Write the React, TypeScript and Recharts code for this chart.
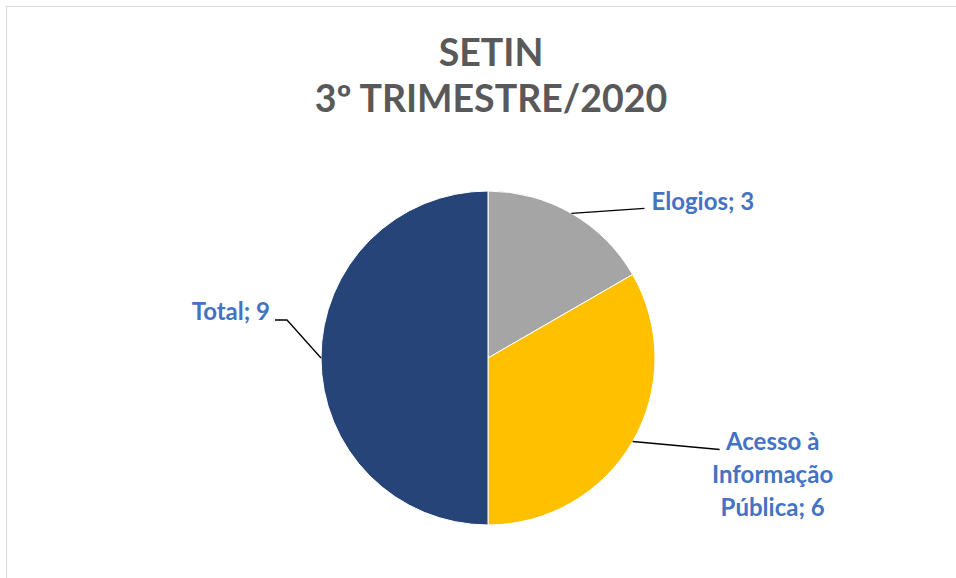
import { PieChart, Pie, Cell } from 'recharts';

const categories = ['Elogios', 'Acesso à Informação Pública', 'Total'];
const values = [3, 6, 9];
const colors = ['#A5A5A5', '#FFC000', '#264478'];

// label text, wrapped the way the reference wraps it
const labelLines = [['Elogios; 3'], ['Acesso à', 'Informação', 'Pública; 6'], ['Total; 9']];

const data = categories.map((name, i) => ({ name, value: values[i] }));

// leader-line elbow / end and text baseline, relative to the point on the rim
const labelLayout = [
  { bend: [73, -5], end: [73, -5], text: [80, -3], anchor: 'start' },
  { bend: [87, 8], end: [87, 8], text: [140, 8], anchor: 'middle' },
  { bend: [-34, -38], end: [-46, -38], text: [-51, -38], anchor: 'end' },
];

const RADIAN = Math.PI / 180;
const labelFont = 'Lato, "Open Sans", sans-serif';

function renderLabel(props: any) {
  const { cx, cy, midAngle, outerRadius, index } = props;
  const sx = cx + outerRadius * Math.cos(-midAngle * RADIAN);
  const sy = cy + outerRadius * Math.sin(-midAngle * RADIAN);
  const l = labelLayout[index];
  const lines = labelLines[index];
  const lh = 33;
  return (
    <g key={`lbl-${index}`}>
      <polyline
        points={`${sx},${sy} ${sx + l.bend[0]},${sy + l.bend[1]} ${sx + l.end[0]},${sy + l.end[1]}`}
        fill="none"
        stroke="#000"
        strokeWidth={1.3}
      />
      <text
        x={sx + l.text[0]}
        y={sy + l.text[1]}
        textAnchor={l.anchor as any}
        fill="#4472C4"
        fontFamily={labelFont}
        fontWeight={700}
        fontSize={24}
      >
        {lines.map((t, i) => (
          <tspan key={i} x={sx + l.text[0]} dy={i === 0 ? 0 : lh}>
            {t}
          </tspan>
        ))}
      </text>
    </g>
  );
}

export default function App() {
  return (
    <div style={{ position: 'fixed', left: 0, top: 0, width: 956, height: 578, background: '#fff', overflow: 'hidden' }}>
      <div
        style={{
          position: 'absolute',
          left: 6,
          top: 6,
          width: 960,
          height: 580,
          border: '1.5px solid #d9d9d9',
          boxSizing: 'border-box',
        }}
      />
      <div
        style={{
          position: 'absolute',
          left: 0,
          top: 29,
          width: 982,
          textAlign: 'center',
          fontFamily: 'Lato, "Open Sans", sans-serif',
          fontWeight: 700,
          fontSize: 37.5,
          lineHeight: '46px',
          color: '#595959',
        }}
      >
        <div>SETIN</div>
        <div>3º TRIMESTRE/2020</div>
      </div>
      <div style={{ position: 'absolute', left: 0, top: 0 }}>
        <PieChart width={956} height={578} margin={{ top: 0, right: 0, bottom: 0, left: 0 }}>
          <Pie
            data={data}
            dataKey="value"
            nameKey="name"
            cx={488}
            cy={358}
            outerRadius={167}
            startAngle={90}
            endAngle={-270}
            stroke="#fff"
            strokeWidth={1}
            label={renderLabel}
            labelLine={false}
            isAnimationActive={false}
          >
            {data.map((d, i) => (
              <Cell key={d.name} fill={colors[i]} />
            ))}
          </Pie>
        </PieChart>
      </div>
    </div>
  );
}
